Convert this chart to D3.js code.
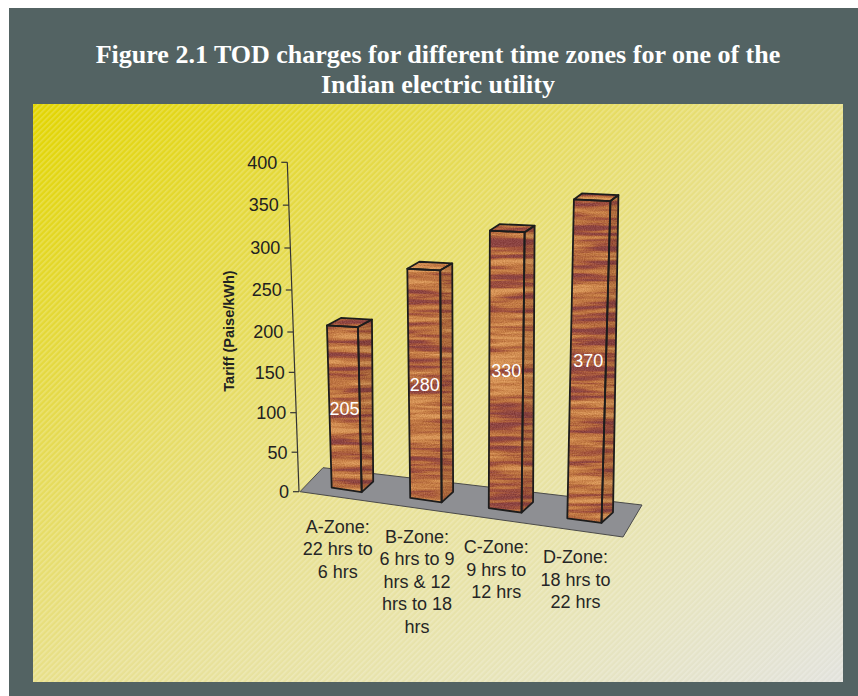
<!DOCTYPE html>
<html>
<head>
<meta charset="utf-8">
<script src="https://cdn.jsdelivr.net/npm/d3@7"></script>
<style>
  html, body { margin: 0; padding: 0; background: #ffffff; }
  svg { display: block; }
</style>
</head>
<body>
<svg id="chart" width="858" height="696"></svg>
<script>
// ---- chart data ----
const titleLines = [
  "Figure 2.1 TOD charges for different time zones for one of the",
  "Indian electric utility"
];
const zones = ["A", "B", "C", "D"];
const zoneLabels = [
  ["A-Zone:", "22 hrs to", "6 hrs"],
  ["B-Zone:", "6 hrs to 9", "hrs & 12", "hrs to 18", "hrs"],
  ["C-Zone:", "9 hrs to", "12 hrs"],
  ["D-Zone:", "18 hrs to", "22 hrs"]
];
const tariff = [205, 280, 330, 370];          // Paise/kWh
const yTicks = [0, 50, 100, 150, 200, 250, 300, 350, 400];
const yTitle = "Tariff (Paise/kWh)";

// ---- layout ----
const W = 858, H = 696;
const svg = d3.select("#chart");
const defs = svg.append("defs");

// panel gradient + diagonal hatch
const grad = defs.append("linearGradient").attr("id", "panelGrad")
  .attr("x1", 0).attr("y1", 0).attr("x2", 1).attr("y2", 1);
[[0, "#e2d500"], [0.28, "#e5da4c"], [0.52, "#e8e08e"], [0.78, "#e7e4b8"], [1, "#e2e2dc"]]
  .forEach(([o, c]) => grad.append("stop").attr("offset", o).attr("stop-color", c));

const hatch = defs.append("pattern").attr("id", "hatch")
  .attr("patternUnits", "userSpaceOnUse").attr("width", 4).attr("height", 4)
  .attr("patternTransform", "rotate(45)");
hatch.append("rect").attr("width", 1.6).attr("height", 4).attr("fill", "#ffffff").attr("opacity", 0.22);

// wood-grain texture for the columns
const wood = defs.append("filter").attr("id", "wood")
  .attr("x", "-5%").attr("y", "-5%").attr("width", "110%").attr("height", "110%")
  .attr("color-interpolation-filters", "sRGB");
wood.append("feTurbulence").attr("type", "fractalNoise")
  .attr("baseFrequency", "0.011 0.15").attr("numOctaves", 4).attr("seed", 11).attr("result", "noise");
wood.append("feColorMatrix").attr("in", "noise").attr("type", "matrix")
  .attr("values", "2.4 0 0 0 -0.7  2.4 0 0 0 -0.7  2.4 0 0 0 -0.7  0 0 0 0 1")
  .attr("result", "tone");
const ct = wood.append("feComponentTransfer").attr("in", "tone").attr("result", "col");
ct.append("feFuncR").attr("type", "table").attr("tableValues", "0.55 0.63 0.72 0.78 0.85");
ct.append("feFuncG").attr("type", "table").attr("tableValues", "0.27 0.32 0.43 0.50 0.59");
ct.append("feFuncB").attr("type", "table").attr("tableValues", "0.26 0.24 0.25 0.28 0.35");
wood.append("feTurbulence").attr("type", "fractalNoise")
  .attr("baseFrequency", "0.9").attr("numOctaves", 1).attr("seed", 3).attr("result", "grainRaw");
wood.append("feColorMatrix").attr("in", "grainRaw").attr("type", "matrix")
  .attr("values", "1 0 0 0 0  1 0 0 0 0  1 0 0 0 0  0 0 0 0 1").attr("result", "grain");
wood.append("feComposite").attr("in", "col").attr("in2", "grain").attr("operator", "arithmetic")
  .attr("k1", 0).attr("k2", 1).attr("k3", 0.22).attr("k4", -0.11).attr("result", "grained");
wood.append("feComposite").attr("in", "grained").attr("in2", "SourceGraphic").attr("operator", "in");

// outer frame and inner panel
svg.append("rect").attr("x", 9).attr("y", 8).attr("width", W - 9).attr("height", H - 8).attr("fill", "#536363");
const panel = { x: 33, y: 104, w: 810, h: 578 };
svg.append("rect").attr("x", panel.x).attr("y", panel.y).attr("width", panel.w).attr("height", panel.h)
  .attr("fill", "url(#panelGrad)");
svg.append("rect").attr("x", panel.x).attr("y", panel.y).attr("width", panel.w).attr("height", panel.h)
  .attr("fill", "url(#hatch)");

// title
svg.append("g").selectAll("text").data(titleLines).join("text")
  .attr("x", 438).attr("y", (d, i) => 63 + i * 30)
  .attr("text-anchor", "middle")
  .attr("font-family", "'Liberation Serif', 'Times New Roman', serif")
  .attr("font-weight", "bold").attr("font-size", 26).attr("fill", "#ffffff")
  .text(d => d);

// ---- scales ----
// value axis (slight perspective compression toward the floor)
const y = d3.scaleLinear().domain([0, 100, 200, 300, 400]).range([491.7, 412.7, 332, 248, 162.3]);
const axisX = v => 299 - (y(0) - y(v)) * 11.7 / (y(0) - y(400));
// column placement along the receding floor
const idx = d3.range(tariff.length);
const xPos = d3.scaleLinear().domain([0, 3]).range([331.7, 567.3]);
const base = d3.scaleLinear().domain([0, 3]).range([487.7, 518.3]);
const faceW = d3.scaleLinear().domain([0, 3]).range([30, 34.2]);
const depthK = d3.scaleLinear().domain([0, 3]).range([0.99, 1.05]);
const topDx = d3.scaleLinear().domain([0, 3]).range([14, 8]);
const topDy = d3.scaleLinear().domain([0, 3]).range([-7.5, -6]);
const vpX = 470, vpD = 4700;   // vertical vanishing
const lean = (x, h) => (x - vpX) * h / vpD;

// floor
const o = [axisX(0) + 1, y(0)];
const floorPts = [o, [o[0] + 23, o[1] - 24], [642, 505], [623, 537]];
svg.append("polygon").attr("points", floorPts.map(p => p.join(",")).join(" "))
  .attr("fill", "#8e8f93").attr("stroke", "#4a4a4a").attr("stroke-width", 1);

// axis line, ticks and labels
const axisG = svg.append("g");
axisG.append("line")
  .attr("x1", axisX(0)).attr("y1", y(0)).attr("x2", axisX(400)).attr("y2", y(400))
  .attr("stroke", "#333").attr("stroke-width", 1.2);
const tick = axisG.selectAll("g.tick").data(yTicks).join("g").attr("class", "tick")
  .attr("transform", d => `translate(${axisX(d)},${y(d)})`);
tick.append("line").attr("x1", -6).attr("x2", 0).attr("stroke", "#333").attr("stroke-width", 1.2);
tick.append("text").attr("x", -10).attr("dy", "0.35em").attr("text-anchor", "end")
  .attr("font-family", "'Liberation Sans', Arial, sans-serif").attr("font-size", 18).attr("fill", "#222")
  .text(d => d);
svg.append("text")
  .attr("transform", `translate(234,331) rotate(-90)`)
  .attr("text-anchor", "middle")
  .attr("font-family", "'Liberation Sans', Arial, sans-serif").attr("font-weight", "bold")
  .attr("font-size", 14.5).attr("fill", "#222").text(yTitle);

// ---- columns ----
const bars = idx.map(i => {
  const x0 = xPos(i), y0 = base(i), w = faceW(i);
  const h = depthK(i) * (y(0) - y(tariff[i]));
  const BL = [x0, y0], BR = [x0 + w, y0 + 4.5];
  const TL = [x0 + lean(x0, h), y0 - h];
  const TR = [x0 + w + lean(x0 + w, h), y0 - h + 1.6];
  const dT = [topDx(i), topDy(i)], dB = [11.5, -10.5];
  const add = (p, d) => [p[0] + d[0], p[1] + d[1]];
  return {
    i, value: tariff[i],
    front: [BL, BR, TR, TL],
    side: [BR, TR, add(TR, dT), add(BR, dB)],
    top: [TL, TR, add(TR, dT), add(TL, dT)]
  };
});
const pts = a => a.map(p => p.join(",")).join(" ");
const barG = svg.append("g").selectAll("g").data(bars).join("g");
["side", "top", "front"].forEach(face => {
  barG.append("polygon").attr("points", d => pts(d[face])).attr("fill", "#b7743e").attr("filter", "url(#wood)");
});
barG.append("polygon").attr("points", d => pts(d.side)).attr("fill", "#000").attr("opacity", 0.08);
["side", "top", "front"].forEach(face => {
  barG.append("polygon").attr("points", d => pts(d[face]))
    .attr("fill", "none").attr("stroke", "#1c1c1c").attr("stroke-width", 1.8).attr("stroke-linejoin", "round");
});

// value labels centred on each front face
barG.append("text")
  .attr("x", d => d3.mean(d.front, p => p[0]))
  .attr("y", d => d3.mean(d.front, p => p[1]))
  .attr("dy", "0.36em").attr("text-anchor", "middle")
  .attr("font-family", "'Liberation Sans', Arial, sans-serif").attr("font-size", 18).attr("fill", "#ffffff")
  .text(d => d.value);

// category labels under the floor
const catG = svg.append("g").selectAll("text").data(idx).join("text")
  .attr("text-anchor", "middle")
  .attr("font-family", "'Liberation Sans', Arial, sans-serif").attr("font-size", 18).attr("fill", "#262626")
  .attr("transform", i => `translate(${xPos(i) + faceW(i) / 2 - 9},${base(i) + 45})`);
catG.selectAll("tspan").data(i => zoneLabels[i]).join("tspan")
  .attr("x", 0).attr("y", (d, j) => j * 22.5).text(d => d);
</script>
</body>
</html>
